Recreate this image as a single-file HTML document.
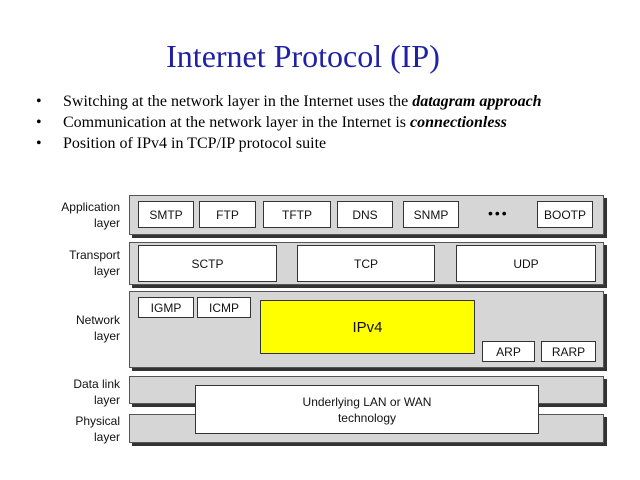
<!DOCTYPE html>
<html><head><style>
body{margin:0;width:640px;height:480px;background:#fff;position:relative;overflow:hidden;font-family:"Liberation Sans",sans-serif}
.t{position:absolute;font-family:"Liberation Serif",serif}
.bl{position:absolute;left:0;white-space:nowrap}
.bl span{position:absolute;left:27px;white-space:nowrap}
.band{position:absolute;background:#d6d6d6;border:1px solid #555;box-shadow:3px 3px 0 #333}
.b{position:absolute;background:#fff;border:1.5px solid #333;box-sizing:border-box;display:flex;align-items:center;justify-content:center;font-size:12px;color:#111}
.lbl{position:absolute;right:520px;text-align:right;font-size:12px;line-height:16px;color:#111}
</style></head><body>
<div class="t" style="left:0;width:606px;text-align:center;top:38px;font-size:32px;color:#2121a8">Internet Protocol (IP)</div>
<div class="t" style="left:36px;top:91px;width:580px;font-size:16px;line-height:21px;color:#000">
<div class="bl" style="top:0">•<span>Switching at the network layer in the Internet uses the <b><i>datagram approach</i></b></span></div>
<div class="bl" style="top:21px">•<span>Communication at the network layer in the Internet is <b><i>connectionless</i></b></span></div>
<div class="bl" style="top:42px">•<span>Position of IPv4 in TCP/IP protocol suite</span></div>
</div>
<div class="lbl" style="top:199px">Application<br>layer</div>
<div class="lbl" style="top:247px">Transport<br>layer</div>
<div class="lbl" style="top:312px">Network<br>layer</div>
<div class="lbl" style="top:376px">Data link<br>layer</div>
<div class="lbl" style="top:413px">Physical<br>layer</div>
<div class="band" style="left:129px;top:195px;width:473px;height:38px"></div>
<div class="band" style="left:129px;top:242px;width:473px;height:41px"></div>
<div class="band" style="left:129px;top:291px;width:473px;height:75px"></div>
<div class="band" style="left:129px;top:376px;width:473px;height:26px"></div>
<div class="band" style="left:129px;top:414px;width:473px;height:27px"></div>
<div class="b" style="left:138px;top:201px;width:56px;height:27px">SMTP</div>
<div class="b" style="left:199px;top:201px;width:57px;height:27px">FTP</div>
<div class="b" style="left:263px;top:201px;width:68px;height:27px">TFTP</div>
<div class="b" style="left:337px;top:201px;width:56px;height:27px">DNS</div>
<div class="b" style="left:403px;top:201px;width:56px;height:27px">SNMP</div>
<div style="position:absolute;left:488px;top:205px;font-size:14px;letter-spacing:2px">•••</div>
<div class="b" style="left:537px;top:201px;width:56px;height:27px">BOOTP</div>
<div class="b" style="left:138px;top:245px;width:139px;height:37px">SCTP</div>
<div class="b" style="left:297px;top:245px;width:138px;height:37px">TCP</div>
<div class="b" style="left:456px;top:245px;width:140px;height:37px">UDP</div>
<div class="b" style="left:138px;top:297px;width:56px;height:21px">IGMP</div>
<div class="b" style="left:197px;top:297px;width:54px;height:21px">ICMP</div>
<div class="b" style="left:260px;top:300px;width:215px;height:54px;background:#ffff00;font-size:15px">IPv4</div>
<div class="b" style="left:482px;top:341px;width:53px;height:21px">ARP</div>
<div class="b" style="left:541px;top:341px;width:55px;height:21px">RARP</div>
<div class="b" style="left:195px;top:385px;width:344px;height:49px;line-height:16px;text-align:center">Underlying LAN or WAN<br>technology</div>
</body></html>
